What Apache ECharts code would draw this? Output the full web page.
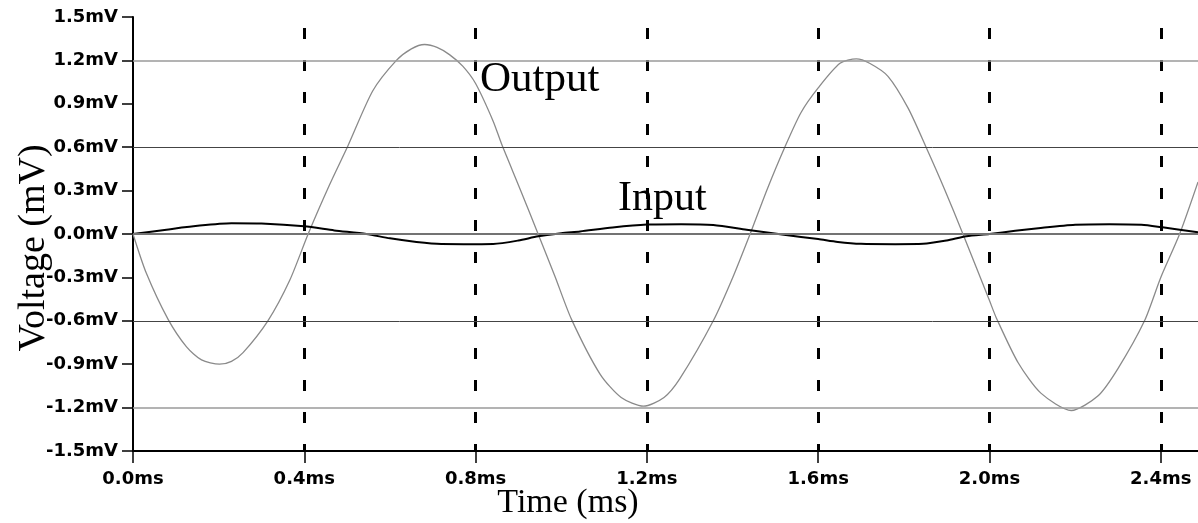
<!DOCTYPE html>
<html>
<head>
<meta charset="utf-8">
<script src="https://cdn.jsdelivr.net/npm/echarts@6/dist/echarts.min.js"></script>
<style>
html,body{margin:0;padding:0;background:#fff;}
#chart{width:1198px;height:523px;}
</style>
</head>
<body>
<div id="chart"></div>
<script>
// Time (ms)
const outputTime = [0.000,0.031,0.082,0.125,0.160,0.202,0.230,0.257,0.315,0.366,0.409,0.459,0.502,0.560,0.615,0.650,0.681,0.710,0.739,0.770,0.800,0.841,0.861,0.904,0.946,0.985,1.024,1.091,1.140,1.192,1.240,1.277,1.355,1.402,1.441,1.481,1.522,1.560,1.600,1.651,1.689,1.720,1.763,1.810,1.852,1.895,1.938,2.000,2.016,2.067,2.120,2.191,2.253,2.300,2.362,2.400,2.444,2.487];
// Output voltage (mV)
const outputValues = [0.00,-0.27,-0.59,-0.78,-0.87,-0.90,-0.88,-0.82,-0.60,-0.32,0.00,0.34,0.61,0.99,1.20,1.28,1.31,1.29,1.24,1.16,1.04,0.78,0.62,0.31,0.00,-0.29,-0.59,-0.97,-1.13,-1.19,-1.13,-1.00,-0.60,-0.29,0.00,0.31,0.60,0.84,1.01,1.18,1.21,1.18,1.09,0.87,0.60,0.31,0.00,-0.46,-0.58,-0.89,-1.10,-1.22,-1.12,-0.93,-0.60,-0.30,0.00,0.36];
const inputTime = [0.000,0.078,0.156,0.230,0.300,0.400,0.470,0.545,0.600,0.662,0.720,0.800,0.841,0.900,0.946,1.000,1.044,1.120,1.200,1.280,1.355,1.433,1.520,1.600,1.646,1.700,1.780,1.845,1.900,1.946,2.000,2.060,2.114,2.200,2.280,2.355,2.400,2.487];
// Input voltage (mV)
const inputValues = [0.000,0.030,0.058,0.074,0.072,0.053,0.025,0.000,-0.030,-0.055,-0.069,-0.070,-0.069,-0.045,-0.016,0.005,0.018,0.045,0.065,0.068,0.062,0.030,-0.005,-0.035,-0.055,-0.068,-0.070,-0.068,-0.045,-0.016,0.000,0.022,0.040,0.064,0.068,0.064,0.048,0.012];
// Axis ticks
const xTicks = [0.0,0.4,0.8,1.2,1.6,2.0,2.4];
const yTicks = [-1.5,-1.2,-0.9,-0.6,-0.3,0.0,0.3,0.6,0.9,1.2,1.5];
const lightGrid = [1.2,0.0,-1.2];
const darkGrid = [0.6,-0.6];

const outData = outputTime.map((t,i)=>[t,outputValues[i]]);
const inData = inputTime.map((t,i)=>[t,inputValues[i]]);

const tickFont = {fontFamily:'DejaVu Sans',fontWeight:'bold',fontSize:18,color:'#000'};
const isTick = (v, arr) => arr.some(a => Math.abs(a - v) < 1e-6);

const chart = echarts.init(document.getElementById('chart'), null, {renderer:'canvas'});
chart.setOption({
  animation:false,
  backgroundColor:'#fff',
  grid:{left:133, top:17, width:1070.6, height:434, containLabel:false, outerBoundsMode:'none'},
  xAxis:[{
    type:'value', min:0, max:2.5, interval:0.4,
    axisLine:{show:true, onZero:false, lineStyle:{color:'#000', width:2}},
    axisTick:{show:true, length:12, lineStyle:{color:'#000', width:1.5}},
    axisLabel:Object.assign({margin:19, showMaxLabel:false, formatter:v=> isTick(v,xTicks) ? v.toFixed(1)+'ms' : ''}, tickFont),
    splitLine:{show:true, showMinLine:false, showMaxLine:false, lineStyle:{color:'#000', width:3, type:[11,21], dashOffset:21}}
  },{
    type:'value', position:'top', min:0, max:2.5,
    axisLine:{show:true, lineStyle:{color:'#000', width:2}},
    axisTick:{show:false}, axisLabel:{show:false}, splitLine:{show:false}
  }],
  yAxis:{
    type:'value', min:-1.5, max:1.5, interval:0.3,
    axisLine:{show:true, lineStyle:{color:'#000', width:2}},
    axisTick:{show:true, length:11, lineStyle:{color:'#000', width:1.5}},
    axisLabel:Object.assign({margin:15, formatter:v=> isTick(v,yTicks) ? v.toFixed(1)+'mV' : ''}, tickFont),
    splitLine:{show:false}
  },
  series:[{
    type:'line', data:[], silent:true,
    markLine:{silent:true, symbol:'none', label:{show:false}, animation:false,
      data: lightGrid.map(v=>({yAxis:v, lineStyle:{color:'#9a9a9a', width:1.5, type:'solid'}}))
        .concat(darkGrid.map(v=>({yAxis:v, lineStyle:{color:'#444', width:1, type:'solid'}})))
    }
  },{
    name:'Output', type:'line', data:outData, showSymbol:false, smooth:0.25,
    lineStyle:{color:'#8a8a8a', width:1.3}, z:3
  },{
    name:'Input', type:'line', data:inData, showSymbol:false, smooth:0.25,
    lineStyle:{color:'#000', width:2}, z:4
  }],
  graphic:[
    {type:'text', left:480, top:58, z:10, style:{text:'Output', font:'43px "Liberation Serif"', fill:'#000'}},
    {type:'text', left:618, top:178, z:10, style:{text:'Input', font:'42px "Liberation Serif"', fill:'#000'}},
    {type:'text', x:568, y:503, z:10, style:{text:'Time (ms)', font:'34px "Liberation Serif"', fill:'#000', textAlign:'center', textVerticalAlign:'middle'}},
    {type:'text', x:34, y:248, rotation:Math.PI/2, z:10, style:{text:'Voltage (mV)', font:'38px "Liberation Serif"', fill:'#000', textAlign:'center', textVerticalAlign:'middle'}}
  ]
});
</script>
</body>
</html>
